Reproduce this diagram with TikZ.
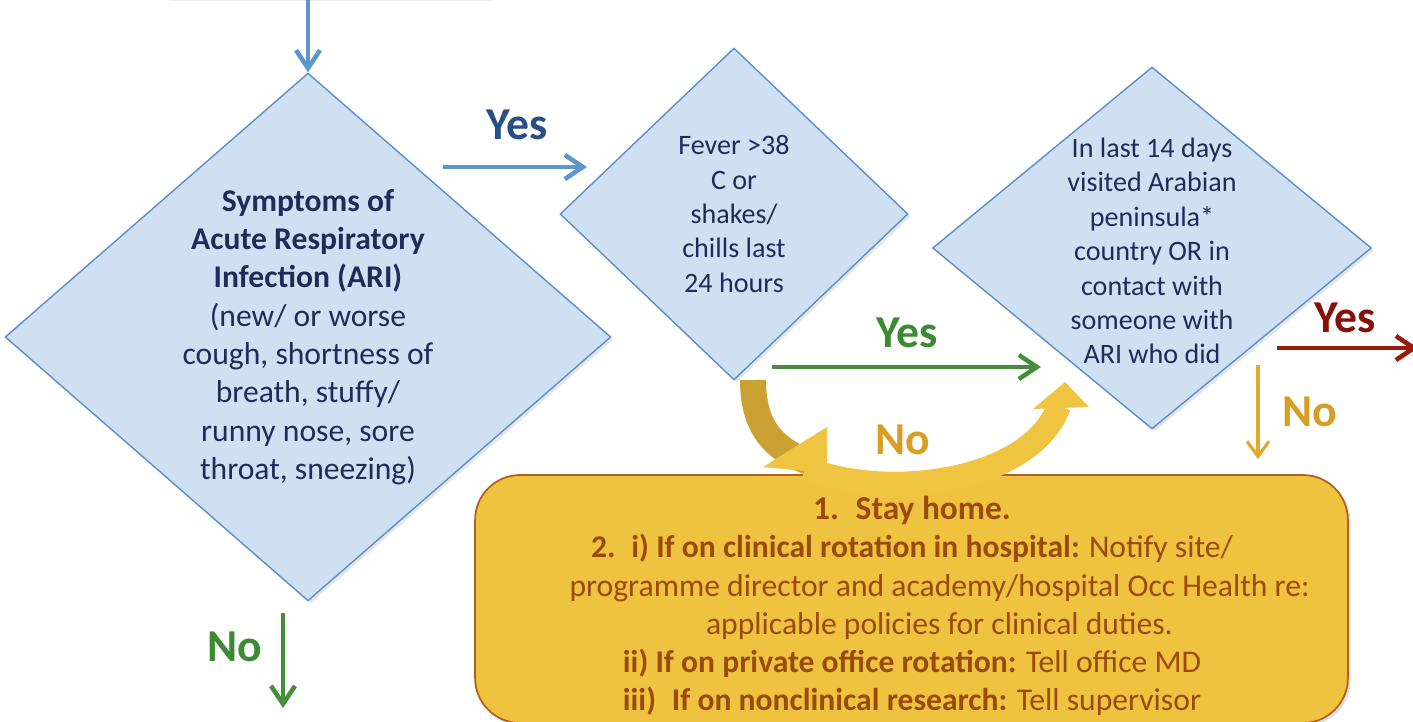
\documentclass[tikz,border=0pt]{standalone}
\usepackage{fontspec}
\setmainfont{Carlito}
\usetikzlibrary{arrows.meta,shapes.geometric,shadows}

\definecolor{diafill}{HTML}{CFE0F3}
\definecolor{diaedge}{HTML}{5B8FC9}
\definecolor{diatext}{HTML}{1F2C57}
\definecolor{flowblue}{HTML}{5D95CD}
\definecolor{yesblue}{HTML}{254F85}
\definecolor{flowgreen}{HTML}{468E3A}
\definecolor{yesgreen}{HTML}{3C8A32}
\definecolor{flowred}{HTML}{9A1A0C}
\definecolor{yesred}{HTML}{8A0F0A}
\definecolor{noorange}{HTML}{D89E24}
\definecolor{floworange}{HTML}{E1A82A}
\definecolor{bandgold}{HTML}{C9A233}
\definecolor{bandlight}{HTML}{EEC440}
\definecolor{boxfill}{HTML}{EFC33F}
\definecolor{boxedge}{HTML}{B0621C}
\definecolor{boxtext}{HTML}{9A4B0C}

\begin{document}
\begin{tikzpicture}[
  x = 0.02cm,
  y = -0.02cm,
  decision/.style = {
    shape = diamond,
    draw = diaedge,
    fill = diafill,
    line width = 0.8pt,
    inner sep = 0pt,
    drop shadow = {opacity = 0.2, shadow xshift = 1.5pt, shadow yshift = -1.5pt}
  },
  question/.style = {
    text = diatext,
    align = center,
    inner sep = 0pt,
    font = \fontsize{16pt}{19.6pt}\selectfont
  },
  answer/.style = {
    font = \fontsize{26pt}{30pt}\selectfont\bfseries,
    inner sep = 0pt
  },
  flow/.style = {
    line width = 2.8pt,
    -{Straight Barb[length = 0.36cm, width = 0.48cm, line width = 2.6pt]}
  },
  thinflow/.style = {
    line width = 1.8pt,
    -{Straight Barb[length = 0.3cm, width = 0.44cm, line width = 1.8pt]}
  },
  actionbox/.style = {
    shape = rectangle,
    rounded corners = 0.9cm,
    draw = boxedge,
    fill = boxfill,
    line width = 1pt,
    drop shadow = {opacity = 0.25, shadow xshift = 1.5pt, shadow yshift = -1.5pt}
  },
  actiontext/.style = {
    text = boxtext,
    align = center,
    inner sep = 0pt,
    font = \fontsize{18pt}{21.8pt}\selectfont
  }
]
  \useasboundingbox (0, 0) rectangle (1413, 721);

  % box of the step before, cut off at the top
  \node[rectangle, rounded corners = 0.5cm, draw = black!8, fill = white,
    minimum width = 7.24cm, minimum height = 1.6cm,
    drop shadow = {opacity = 0.15, shadow xshift = 0pt, shadow yshift = -1.2pt}]
    (prev) at (331, -41) {};

  \node[decision, minimum width = 12.12cm, minimum height = 10.56cm] (sym) at (308, 337) {};
  \node[question, font = \fontsize{18pt}{21.8pt}\selectfont] (symtext) at (sym) {%
    \textbf{Symptoms of}\\
    \textbf{Acute Respiratory}\\
    \textbf{Infection (ARI)}\\
    (new/ or worse\\
    cough, shortness of\\
    breath, stuffy/\\
    runny nose, sore\\
    throat, sneezing)};

  \node[decision, minimum width = 6.96cm, minimum height = 6.64cm] (fever) at (734, 214) {};
  \node[question] (fevertext) at (fever) {Fever >38\\ C or\\ shakes/\\ chills last\\ 24 hours};

  \node[decision, minimum width = 8.78cm, minimum height = 7.24cm] (risk) at (1152, 248) {};
  \node[question] (risktext) at (1152, 251) {%
    In last 14 days\\
    visited Arabian\\
    peninsula*\\
    country OR in\\
    contact with\\
    someone with\\
    ARI who did};

  \node[actionbox, minimum width = 17.46cm, minimum height = 4.96cm] (action) at (911.5, 599) {};
  \node[actiontext] (actionlines) at (912, 606) {%
    {\fontsize{19pt}{21.8pt}\selectfont\bfseries 1.\enspace Stay home.}\\
    \textbf{2.\enspace i) If on clinical rotation in hospital:} Notify site/\\
    \hspace*{1.1cm}programme director and academy/hospital Occ Health re:\\
    \hspace*{1.1cm}applicable policies for clinical duties.\\
    \textbf{ii) If on private office rotation:} Tell office MD\\
    \textbf{iii)\enspace If on nonclinical research:} Tell supervisor};

  % ends of the connectors
  \coordinate (yes1a) at (443, 167);
  \coordinate (yes1b) at (587, 167);
  \coordinate (yes2a) at (772, 367);
  \coordinate (yes2b) at (1041, 367);
  \coordinate (yes3a) at (1277, 348);
  \coordinate (yes3b) at (1418, 348);
  \coordinate (no1a) at (283, 613);
  \coordinate (no1b) at (283, 708);
  \coordinate (no3a) at (1258, 365);
  \coordinate (no3b) at (1258, 459);

  \draw[flow, draw = flowblue] (sym.north |- prev.south) -- (sym.north);
  \draw[flow, draw = flowblue] (yes1a) -- (yes1b);
  \draw[flow, draw = flowgreen] (yes2a) -- (yes2b);
  \draw[flow, draw = flowred] (yes3a) -- (yes3b);
  \draw[flow, draw = flowgreen, line width = 2.4pt] (no1a) -- (no1b);
  \draw[thinflow, draw = floworange] (no3a) -- (no3b);

  % curved No arrow from fever round to risk
  \draw[line width = 0.52cm, draw = bandgold] (753, 380) .. controls (753, 425) and (772, 450) .. (812, 463);
  \fill[bandlight] (827, 427) -- (763, 467) -- (827, 473) -- cycle;
  \draw[line width = 0.48cm, draw = bandlight] (806, 468) .. controls (880, 500) and (1030, 485) .. (1059, 406);
  \fill[bandlight] (1033, 409) -- (1065, 382) -- (1089, 407) -- cycle;

  \node[answer, text = yesblue] (yes1) at (517, 125) {Yes};
  \node[answer, text = yesgreen] (yes2) at (907, 333) {Yes};
  \node[answer, text = yesred] (yes3) at (1345, 318) {Yes};
  \node[answer, text = yesgreen] (no1) at (235, 647) {No};
  \node[answer, text = noorange] (no2) at (903, 440) {No};
  \node[answer, text = noorange] (no3) at (1310, 412) {No};
\end{tikzpicture}
\end{document}
